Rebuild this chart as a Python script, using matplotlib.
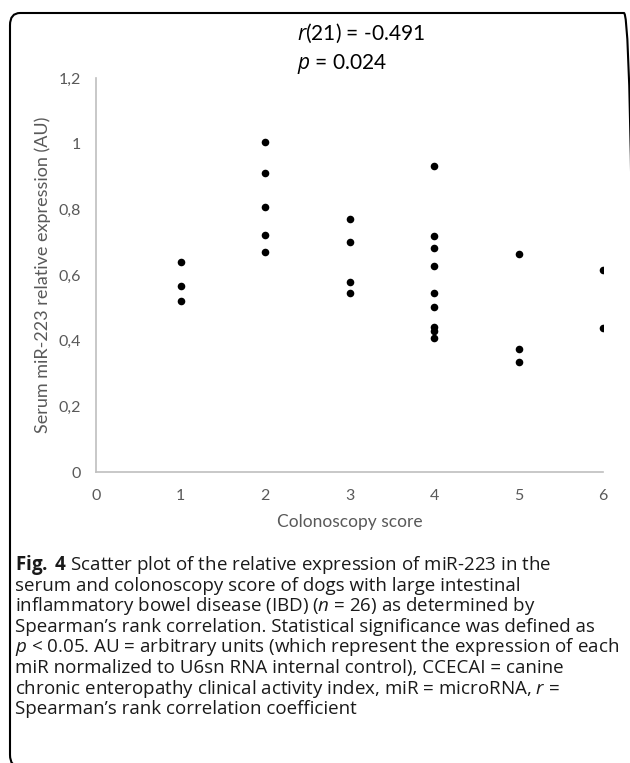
import numpy as np
import matplotlib
matplotlib.use("Agg")
import matplotlib.pyplot as plt
from matplotlib.patches import FancyBboxPatch

plt.rcParams['font.family'] = ['Lato', 'DejaVu Sans']
plt.rcParams['mathtext.fontset'] = 'custom'
plt.rcParams['mathtext.rm'] = 'Open Sans'
plt.rcParams['mathtext.it'] = 'Open Sans:italic'
plt.rcParams['mathtext.bf'] = 'Open Sans:bold'

# data
score = [1, 1, 1,
         2, 2, 2, 2, 2,
         3, 3, 3, 3,
         4, 4, 4, 4, 4, 4, 4, 4, 4,
         5, 5, 5,
         6, 6]
mir223 = [0.641, 0.567, 0.522,
          1.005, 0.912, 0.807, 0.721, 0.670,
          0.770, 0.702, 0.578, 0.545,
          0.933, 0.720, 0.681, 0.627, 0.545, 0.503, 0.443, 0.428, 0.408,
          0.665, 0.375, 0.335,
          0.615, 0.440]
xticks = [0, 1, 2, 3, 4, 5, 6]
yticks = [0, 0.2, 0.4, 0.6, 0.8, 1.0, 1.2]
ytick_labels = ['0', '0,2', '0,4', '0,6', '0,8', '1', '1,2']

caption = [
    r"$\mathbf{Fig.\;4}$ Scatter plot of the relative expression of miR-223 in the",
    "serum and colonoscopy score of dogs with large intestinal",
    r"inflammatory bowel disease (IBD) ($\mathit{n}$ = 26) as determined by",
    "Spearman\u2019s rank correlation. Statistical significance was defined as",
    r"$\mathit{p}$ < 0.05. AU = arbitrary units (which represent the expression of each",
    "miR normalized to U6sn RNA internal control), CCECAI = canine",
    r"chronic enteropathy clinical activity index, miR = microRNA, $\mathit{r}$ =",
    "Spearman\u2019s rank correlation coefficient",
]

W, H = 630, 763
fig = plt.figure(figsize=(W / 100, H / 100), dpi=100)
ax = fig.add_axes([96 / W, 1 - 472 / H, 507 / W, 394 / H])

ax.scatter(score, mir223, s=30, color='black', zorder=3, linewidths=0)

ax.set_xlim(0, 6)
ax.set_ylim(0, 1.2)
ax.set_xticks(xticks)
ax.set_yticks(yticks)
ax.set_yticklabels(ytick_labels)
for s in ['top', 'right']:
    ax.spines[s].set_visible(False)
for s in ['left', 'bottom']:
    ax.spines[s].set_color('#bfbfbf')
    ax.spines[s].set_linewidth(1.2)
ax.tick_params(length=0, labelsize=11.5, labelcolor='#595959')
ax.tick_params(axis='y', pad=11)
ax.tick_params(axis='x', pad=12)
ax.set_xlabel('Colonoscopy score', fontsize=12.5, color='#595959', labelpad=8)
ax.set_ylabel('Serum miR-223 relative expression (AU)', fontsize=13, color='#595959', labelpad=5)

# correlation text
fig.text(297 / W, 1 - 40 / H, r"$\mathit{r}$(21) = -0.491", fontsize=15, va='baseline', ha='left')
fig.text(297 / W, 1 - 69 / H, r"$\mathit{p}$ = 0.024", fontsize=15, va='baseline', ha='left')

# caption
for k, line in enumerate(caption):
    fig.text(15 / W, 1 - (570 + k * 20.6) / H, line, fontsize=13.5, family='Open Sans',
             va='baseline', ha='left', color='#1a1a1a')

# rounded frame, right and bottom edges run just off the picture
frame = FancyBboxPatch((10 / W, -4 / H), (W + 4 - 10) / W, (H - 13 + 4) / H,
                       boxstyle="round,pad=0,rounding_size=0.016",
                       transform=fig.transFigure, fill=False, edgecolor='black',
                       linewidth=1.5, clip_on=False)
fig.patches.append(frame)

fig.savefig("out.png", dpi=100)
